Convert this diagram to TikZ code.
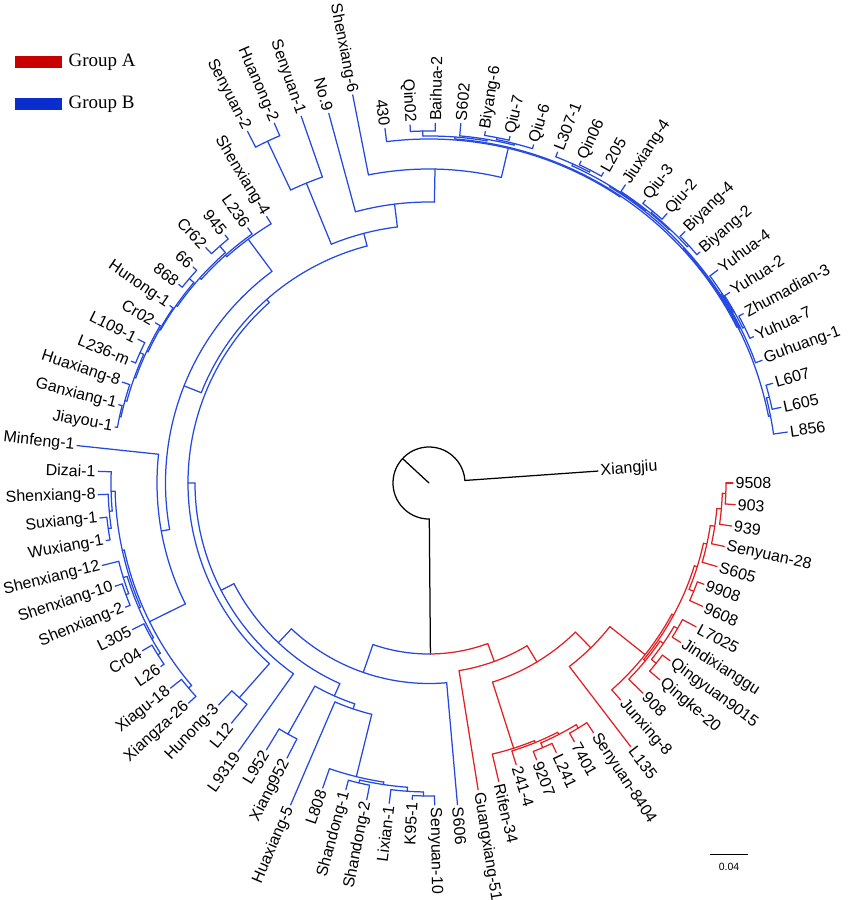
\documentclass[tikz,border=0pt]{standalone}
\usepackage{fontspec}
\usepackage{xcolor}
\usepackage{tikz}
\newfontfamily\tipfont{Liberation Sans}
\newfontfamily\legfont{Liberation Serif}
\definecolor{grpred}{RGB}{226,32,36}
\definecolor{grpblue}{RGB}{36,72,226}
\definecolor{legred}{RGB}{200,0,0}
\definecolor{legblue}{RGB}{10,45,205}

% radial branch: name, angle, radius of parent, own radius
\newcommand{\stem}[4]{%
  \coordinate (#1-b) at (#2:#3pt);
  \coordinate (#1) at (#2:#4pt);
  \draw (#1-b) -- (#1);}
% arc of a node: radius, first child angle, last child angle
\newcommand{\fan}[3]{%
  \draw (#2:#1pt) arc[start angle=#2, end angle=#3, radius=#1pt];}
% leaves, label on the right half or on the left half
\newcommand{\tipR}[5]{%
  \stem{#1}{#2}{#3}{#4}
  \node[lbl, anchor=west, rotate=#2] (#1-l) at (#1) {#5};}
\newcommand{\tipL}[5]{%
  \stem{#1}{#2}{#3}{#4}
  \node[lbl, anchor=east, rotate=#2+180] (#1-l) at (#1) {#5};}

\begin{document}
\begin{tikzpicture}[x=1pt, y=1pt, line width=1.25pt, line cap=round,
    lbl/.style={text=black, font=\tipfont\fontsize{16}{18}\selectfont, inner sep=2pt},
    leg/.style={font=\legfont\fontsize{19}{21}\selectfont, inner sep=0pt},
    legbox/.style={minimum width=46.7pt, minimum height=12.3pt, inner sep=0pt}]
    \useasboundingbox (-429,-417) rectangle (422,483);

    % legend
    \node[legbox, fill=legred] (boxA) at (-390.6,420.8) {};
    \node[leg, anchor=west] (legA) at (-361,420.5) {Group A};
    \node[legbox, fill=legblue] (boxB) at (-390.6,379.2) {};
    \node[leg, anchor=west] (legB) at (-361,379) {Group B};

    % root and outgroup
    \stem{RT}{137.26}{0}{36}
    \fan{36}{4.04}{270.48}
    \tipR{tXiangjiu}{4.04}{36}{169.4}{Xiangjiu}
    \stem{IG}{270.48}{36}{171}

    % Group A
    \begin{scope}[color=grpred]
    \fan{171}{-89.52}{-69.9}
    \stem{R0}{-69.9}{171}{190}
    \fan{190}{-80.9}{-58.91}
    \tipR{tGuangxiang51}{-80.9}{190}{310.7}{Guangxiang-51}
    \stem{R1}{-58.91}{190}{209}
    \fan{209}{-72.3}{-45.52}
    \stem{R2}{-72.3}{209}{278.4}
    \fan{278.4}{-76.85}{-67.75}
    \tipR{tRifen34}{-76.85}{278.4}{306.6}{Rifen-34}
    \stem{R3}{-67.75}{278.4}{280.5}
    \fan{280.5}{-72.81}{-62.7}
    \tipR{t2414}{-72.81}{280.5}{295}{241-4}
    \stem{R4}{-62.7}{280.5}{283}
    \fan{283}{-66.74}{-58.65}
    \stem{P9L}{-66.74}{283}{288}
    \fan{288}{-68.76}{-64.72}
    \tipR{t9207}{-68.76}{288}{297}{9207}
    \tipR{tL241}{-64.72}{288}{298}{L241}
    \stem{P7S}{-58.65}{283}{287}
    \fan{287}{-60.67}{-56.63}
    \tipR{t7401}{-60.67}{287}{296.6}{7401}
    \tipR{tSenyuan8404}{-56.63}{287}{299}{Senyuan-8404}
    \stem{R5}{-45.52}{209}{231}
    \fan{231}{-52.58}{-38.46}
    \tipR{tL135}{-52.58}{231}{331.8}{L135}
    \stem{R6}{-38.46}{231}{276}
    \fan{276}{-48.54}{-28.38}
    \tipR{tJunxing8}{-48.54}{276}{289.5}{Junxing-8}
    \stem{R7}{-28.38}{276}{278}
    \fan{278}{-39.44}{-17.32}
    \stem{C4}{-39.44}{278}{280}
    \fan{280}{-44.49}{-34.38}
    \tipR{t908}{-44.49}{280}{300}{908}
    \stem{C3}{-34.38}{280}{284}
    \fan{284}{-38.43}{-30.34}
    \stem{C1}{-30.34}{284}{288}
    \fan{288}{-32.36}{-28.31}
    \tipR{tL7025}{-28.31}{288}{303.5}{L7025}
    \tipR{tJindixianggu}{-32.36}{288}{298}{Jindixianggu}
    \stem{C2}{-38.43}{284}{290}
    \fan{290}{-40.45}{-36.40}
    \tipR{tQingyuan9015}{-36.40}{290}{299.5}{Qingyuan9015}
    \tipR{tQingke20}{-40.45}{290}{303.6}{Qingke-20}
    \stem{A5}{-17.32}{278}{281}
    \fan{281}{-22.25}{-12.39}
    \stem{P99}{-22.25}{281}{286}
    \fan{286}{-24.27}{-20.22}
    \tipR{t9908}{-20.22}{286}{293}{9908}
    \tipR{t9608}{-24.27}{286}{300}{9608}
    \stem{A4}{-12.39}{281}{284.5}
    \fan{284.5}{-16.18}{-8.6}
    \tipR{tS605}{-16.18}{284.5}{300}{S605}
    \stem{A3}{-8.6}{284.5}{289}
    \fan{289}{-12.13}{-5.06}
    \tipR{tSenyuan28}{-12.13}{289}{302}{Senyuan-28}
    \stem{A2}{-5.06}{289}{293.5}
    \fan{293.5}{-8.09}{-2.02}
    \tipR{t939}{-8.09}{293.5}{305.7}{939}
    \stem{A1}{-2.02}{293.5}{297}
    \fan{297}{-4.045}{0}
    \tipR{t9508}{0}{297}{304}{9508}
    \tipR{t903}{-4.045}{297}{307}{903}
    \end{scope}

    % Group B
    \begin{scope}[color=grpblue]
    \fan{171}{-109.14}{-89.52}
    \stem{B0}{-109.14}{171}{200.5}
    \fan{200.5}{-133.33}{-84.94}
    \tipR{tS606}{-84.94}{200.5}{323}{S606}
    \stem{B1}{-133.33}{200.5}{219.5}
    \fan{219.5}{-152.7}{-113.96}
    \stem{G}{-113.96}{219.5}{233}
    \fan{233}{-119.33}{-108.58}
    \stem{LX}{-119.33}{233}{288}
    \fan{288}{-121.35}{-117.30}
    \tipL{tL952}{-121.35}{288}{312.5}{L952}
    \tipL{tXiang952}{-117.30}{288}{309.6}{Xiang952}
    \stem{H}{-108.58}{233}{238.3}
    \fan{238.3}{-113.26}{-103.9}
    \tipL{tHuaxiang5}{-113.26}{238.3}{350.4}{Huaxiang-5}
    \stem{S}{-103.9}{238.3}{302.5}
    \fan{302.5}{-109.21}{-98.6}
    \tipL{tL808}{-109.21}{302.5}{323}{L808}
    \stem{T}{-98.6}{302.5}{305}
    \fan{305}{-103.15}{-94.05}
    \stem{ShP}{-103.15}{305}{308}
    \fan{308}{-105.17}{-101.12}
    \tipL{tShandong1}{-105.17}{308}{317.8}{Shandong-1}
    \tipL{tShandong2}{-101.12}{308}{322.8}{Shandong-2}
    \stem{S2}{-94.05}{305}{309}
    \fan{309}{-97.08}{-91.01}
    \tipL{tLixian1}{-97.08}{309}{322.8}{Lixian-1}
    \stem{KS}{-91.01}{309}{313}
    \fan{313}{-93.03}{-88.99}
    \tipL{tK951}{-93.03}{313}{317}{K95-1}
    \tipR{tSenyuan10}{-88.99}{313}{322}{Senyuan-10}

    \stem{X}{-152.7}{219.5}{234}
    \fan{234}{-179.98}{-125.39}
    \tipL{tL9319}{-125.39}{234}{329.5}{L9319}
    \stem{Z}{180.02}{234}{241}
    \fan{241}{131.5}{228.54}
    \stem{HL}{228.54}{241}{286.5}
    \fan{286.5}{226.52}{230.56}
    \tipL{tL12}{-129.44}{286.5}{311}{L12}
    \tipL{tHunong3}{-133.48}{286.5}{306}{Hunong-3}
    \stem{Q}{131.5}{241}{245}
    \fan{245}{104.64}{158.37}
    \stem{P2}{104.64}{245}{258}
    \fan{258}{97.04}{112.25}
    \stem{P1}{112.25}{258}{324}
    \fan{324}{109.21}{115.28}
    \tipL{tSenyuan1}{109.21}{324}{388.4}{Senyuan-1}
    \stem{SH}{115.28}{324}{378}
    \fan{378}{113.26}{117.30}
    \tipL{tSenyuan2}{117.30}{378}{395.8}{Senyuan-2}
    \tipL{tHuanong2}{113.26}{378}{391.7}{Huanong-2}
    \stem{N9}{97.04}{258}{281}
    \fan{281}{88.9}{105.17}
    \tipL{tNo9}{105.17}{281}{383}{No.9}
    \stem{TR}{88.9}{281}{314}
    \fan{314}{76.68}{101.12}
    \tipL{tShenxiang6}{101.12}{314}{395.5}{Shenxiang-6}
    \stem{TR2}{76.68}{314}{344}
    \fan{344}{56.28}{97.08}
    \tipL{t430}{97.08}{344}{357.3}{430}
    \stem{W}{56.28}{344}{345}
    \fan{345}{26.86}{85.7}
    \stem{Wa}{85.7}{345}{347}
    \fan{347}{80.39}{91.01}
    \stem{QB}{91.01}{347}{352}
    \fan{352}{88.99}{93.03}
    \tipL{tQin02}{93.03}{352}{358.5}{Qin02}
    \tipR{tBaihua2}{88.99}{352}{359.7}{Baihua-2}
    \stem{SB}{80.39}{347}{348.5}
    \fan{348.5}{75.84}{84.94}
    \tipR{tS602}{84.94}{348.5}{361}{S602}
    \stem{BQ2}{75.84}{348.5}{350}
    \fan{350}{72.81}{78.88}
    \tipR{tQiu6}{72.81}{350}{354}{Qiu-6}
    \stem{BQ}{78.88}{350}{352}
    \fan{352}{76.85}{80.9}
    \tipR{tBiyang6}{80.9}{352}{356}{Biyang-6}
    \tipR{tQiu7}{76.85}{352}{356}{Qiu-7}
    \stem{Wb}{26.86}{345}{346}
    \fan{346}{11.12}{42.6}
    \stem{Wc}{42.6}{346}{347}
    \fan{347}{26.55}{58.66}
    \stem{Wf}{58.66}{347}{348}
    \fan{348}{51.58}{65.73}
    \stem{We}{65.73}{348}{350}
    \fan{350}{62.7}{68.76}
    \tipR{tL3071}{68.76}{350}{355}{L307-1}
    \stem{QL}{62.7}{350}{352}
    \fan{352}{60.67}{64.72}
    \tipR{tQin06}{64.72}{352}{356}{Qin06}
    \tipR{tL205}{60.67}{352}{356}{L205}
    \stem{Jq}{51.58}{348}{349}
    \fan{349}{46.52}{56.63}
    \tipR{tJiuxiang4}{56.63}{349}{357}{Jiuxiang-4}
    \stem{Qb}{46.52}{349}{350}
    \fan{350}{42.47}{50.56}
    \stem{Q2}{50.56}{350}{352}
    \fan{352}{48.54}{52.58}
    \tipR{tQiu3}{52.58}{352}{356}{Qiu-3}
    \tipR{tQiu2}{48.54}{352}{359.5}{Qiu-2}
    \stem{BB}{42.47}{350}{352}
    \fan{352}{40.45}{44.49}
    \tipR{tBiyang4}{44.49}{352}{358.7}{Biyang-4}
    \tipR{tBiyang2}{40.45}{352}{356}{Biyang-2}
    \stem{Gh}{26.55}{347}{348}
    \fan{348}{20.22}{32.87}
    \tipR{tGuhuang1}{20.22}{348}{355}{Guhuang-1}
    \stem{Y4}{32.87}{348}{349}
    \fan{349}{29.33}{36.4}
    \tipR{tYuhua4}{36.4}{349}{359}{Yuhua-4}
    \stem{Y2}{29.33}{349}{350}
    \fan{350}{26.29}{32.36}
    \tipR{tYuhua2}{32.36}{350}{356}{Yuhua-2}
    \stem{YZ}{26.29}{350}{352}
    \fan{352}{24.27}{28.31}
    \tipR{tZhumadian3}{28.31}{352}{357}{Zhumadian-3}
    \tipR{tYuhua7}{24.27}{352}{356}{Yuhua-7}
    \stem{Wd}{11.12}{346}{348}
    \fan{348}{8.09}{14.16}
    \tipR{tL856}{8.09}{348}{362}{L856}
    \stem{LL}{14.16}{348}{351}
    \fan{351}{12.13}{16.18}
    \tipR{tL607}{16.18}{351}{358}{L607}
    \tipR{tL605}{12.13}{351}{360}{L605}

    \stem{L}{158.37}{245}{263.5}
    \fan{263.5}{126.57}{190.17}
    \stem{K}{126.57}{263.5}{303.5}
    \fan{303.5}{121.35}{131.79}
    \tipL{tShenxiang4}{121.35}{303.5}{312}{Shenxiang-4}
    \stem{K2}{131.79}{303.5}{305.5}
    \fan{305.5}{125.39}{138.19}
    \tipL{tL236}{125.39}{305.5}{313}{L236}
    \stem{K3}{138.19}{305.5}{307.5}
    \fan{307.5}{131.46}{144.92}
    \stem{CP}{131.46}{307.5}{316}
    \fan{316}{129.44}{133.48}
    \tipL{t945}{129.44}{316}{321}{945}
    \tipL{tCr62}{133.48}{316}{324.4}{Cr62}
    \stem{K4}{144.92}{307.5}{309}
    \fan{309}{139.55}{150.3}
    \stem{SP}{139.55}{309}{315}
    \fan{315}{137.53}{141.57}
    \tipL{t66}{137.53}{315}{320}{66}
    \tipL{t868}{141.57}{315}{319.5}{868}
    \stem{K5}{150.3}{309}{310}
    \fan{310}{145.62}{154.97}
    \tipL{tHunong1}{145.62}{310}{314}{Hunong-1}
    \stem{K6}{154.97}{310}{311.5}
    \fan{311.5}{149.66}{160.28}
    \tipL{tCr02}{149.66}{311.5}{317}{Cr02}
    \stem{K7}{160.28}{311.5}{313}
    \fan{313}{155.73}{164.83}
    \stem{LP}{155.73}{313}{317}
    \fan{317}{153.71}{157.75}
    \tipL{tL1091}{153.71}{317}{324.7}{L109-1}
    \tipL{tL236m}{157.75}{317}{321.7}{L236-m}
    \stem{K8}{164.83}{313}{315}
    \fan{315}{161.8}{167.87}
    \tipL{tHuaxiang8}{161.8}{315}{323}{Huaxiang-8}
    \stem{GJ}{167.87}{315}{316.5}
    \fan{316.5}{165.84}{169.89}
    \tipL{tGanxiang1}{165.84}{316.5}{320}{Ganxiang-1}
    \tipL{tJiayou1}{169.89}{316.5}{319}{Jiayou-1}
    \stem{M}{190.17}{263.5}{272}
    \fan{272}{173.93}{206.4}
    \tipL{tMinfeng1}{173.93}{272}{354}{Minfeng-1}
    \stem{N1}{206.4}{272}{312}
    \fan{312}{192.4}{220.45}
    \stem{XX}{220.45}{312}{316}
    \fan{316}{218.43}{222.47}
    \tipL{tXiagu18}{218.43}{316}{330}{Xiagu-18}
    \tipL{tXiangza26}{222.47}{316}{326}{Xiangza-26}
    \stem{N2}{192.4}{312}{314}
    \fan{314}{181.51}{203.26}
    \stem{U1}{181.51}{314}{318}
    \fan{318}{177.98}{185.05}
    \tipL{tDizai1}{177.98}{318}{331}{Dizai-1}
    \stem{U3}{185.05}{318}{321}
    \fan{321}{182.02}{188.09}
    \tipL{tShenxiang8}{182.02}{321}{331}{Shenxiang-8}
    \stem{U4}{188.09}{321}{324}
    \fan{324}{186.07}{190.11}
    \tipL{tSuxiang1}{186.07}{324}{331}{Suxiang-1}
    \tipL{tWuxiang1}{190.11}{324}{328}{Wuxiang-1}
    \stem{U2}{203.26}{314}{316}
    \fan{316}{197.19}{209.32}
    \stem{U5}{197.19}{316}{320}
    \fan{320}{194.16}{200.22}
    \tipL{tShenxiang12}{194.16}{320}{337}{Shenxiang-12}
    \stem{S10}{200.22}{320}{323}
    \fan{323}{198.2}{202.25}
    \tipL{tShenxiang10}{198.2}{323}{330.5}{Shenxiang-10}
    \tipL{tShenxiang2}{202.25}{323}{328}{Shenxiang-2}
    \stem{U6}{209.32}{316}{318}
    \fan{318}{206.29}{212.36}
    \tipL{tL305}{206.29}{318}{330.8}{L305}
    \stem{CL}{212.36}{318}{321}
    \fan{321}{210.34}{214.38}
    \tipL{tCr04}{210.34}{321}{332}{Cr04}
    \tipL{tL26}{214.38}{321}{325}{L26}
    \end{scope}

    % scale bar
    \coordinate (sb1) at (281,-371);
    \coordinate (sb2) at (319,-371);
    \draw[line width=0.9pt, line cap=butt] (sb1) -- (sb2);
    \node[font=\tipfont\fontsize{10.5}{12}\selectfont, inner sep=0pt] (sbl) at (300,-384) {0.04};
\end{tikzpicture}
\end{document}
